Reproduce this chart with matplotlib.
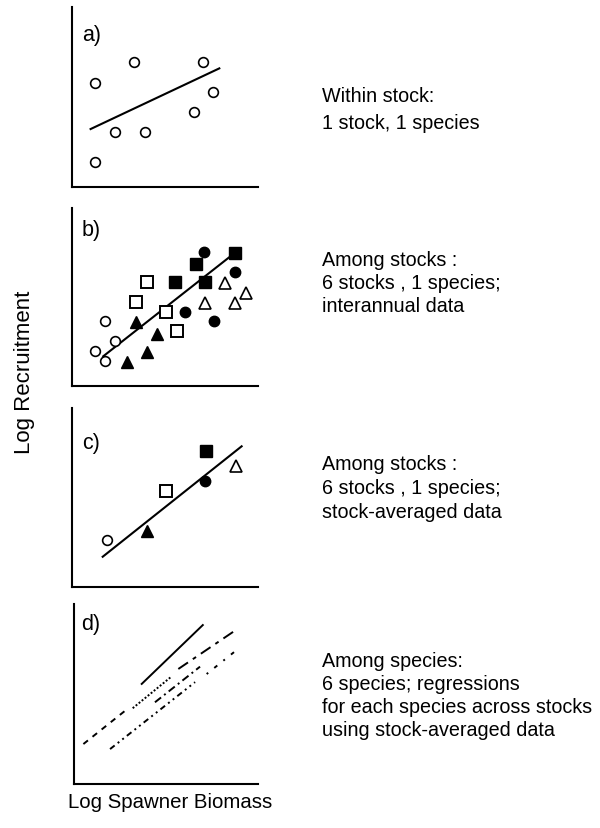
import matplotlib
matplotlib.use("Agg")
import matplotlib.pyplot as plt

plt.rcParams['font.family'] = ['Liberation Sans', 'DejaVu Sans']

# ---- data (arbitrary log units, 0-10 on both axes) ----
# a) one stock, one species
a_x = [1.24, 3.33, 7.06, 7.60, 6.56, 2.31, 3.92, 1.24]
a_y = [5.78, 6.96, 6.96, 5.26, 4.15, 3.04, 3.04, 1.37]
a_fit_x = [1.0, 7.92]
a_fit_y = [3.22, 6.59]

# b) six stocks, interannual data
b_open_circle_x = [1.77, 2.31, 1.24, 1.77]
b_open_circle_y = [3.63, 2.54, 1.98, 1.42]
b_filled_tri_x = [2.94, 4.02, 4.55, 3.44]
b_filled_tri_y = [1.33, 1.89, 2.92, 3.58]
b_open_square_x = [4.02, 3.44, 5.05, 5.63]
b_open_square_y = [5.83, 4.70, 4.14, 3.07]
b_filled_square_x = [6.67, 5.54, 7.15, 8.76]
b_filled_square_y = [6.85, 5.83, 5.83, 7.46]
b_filled_circle_x = [7.10, 8.76, 6.08, 7.63]
b_filled_circle_y = [7.51, 6.39, 4.14, 3.67]
b_open_tri_x = [8.23, 9.35, 7.15, 8.76]
b_open_tri_y = [5.77, 5.21, 4.65, 4.65]
b_fit_x = [1.68, 8.73]
b_fit_y = [1.67, 7.46]

# c) six stocks, stock-averaged data
c_x = [1.87, 4.05, 5.05, 7.15, 7.19, 8.80]
c_y = [2.63, 3.11, 5.35, 5.90, 7.58, 6.78]
c_fit_x = [1.65, 9.12]
c_fit_y = [1.69, 7.86]

# d) regressions for each species across stocks: (x0, x1), (y0, y1)
d_solid = ([3.68, 7.00], [5.56, 8.83])
d_dashed = ([0.51, 2.95], [2.22, 4.21])
d_dotted = ([3.19, 5.31], [4.21, 5.98])
d_dashdot = ([4.40, 6.85], [4.54, 6.52])
d_dashdotdot = ([1.96, 6.58], [1.94, 5.66])
d_longdash = ([5.67, 8.66], [6.39, 8.46])
d_sparse = ([7.21, 9.02], [6.11, 7.59])

W, H = 600, 829
fig = plt.figure(figsize=(W / 100, H / 100), dpi=100)


def panel(left, top, right, bottom):
    ax = fig.add_axes([left / W, 1 - bottom / H, (right - left) / W, (bottom - top) / H])
    ax.set_xlim(0, 10)
    ax.set_ylim(0, 10)
    for s in ('top', 'right'):
        ax.spines[s].set_visible(False)
    for s in ('left', 'bottom'):
        ax.spines[s].set_linewidth(1.5)
    ax.set_xticks([])
    ax.set_yticks([])
    ax.patch.set_visible(False)
    return ax


def side_text(lines, baselines):
    for txt, yb in zip(lines, baselines):
        fig.text(322 / W, 1 - yb / H, txt, fontsize=14.2, ha='left', va='baseline')


open_c = dict(marker='o', ms=7, mfc='white', mec='black', mew=1.2, ls='none', clip_on=False)
fill_c = dict(marker='o', ms=7.5, mfc='black', mec='black', ls='none', clip_on=False)
open_s = dict(marker='s', ms=8, mfc='white', mec='black', mew=1.4, ls='none', clip_on=False)
fill_s = dict(marker='s', ms=8, mfc='black', mec='black', ls='none', clip_on=False)
open_t = dict(marker='^', ms=9, mfc='white', mec='black', mew=1.2, ls='none', clip_on=False)
fill_t = dict(marker='^', ms=9, mfc='black', mec='black', ls='none', clip_on=False)
label_kw = dict(fontsize=15.5, ha='left', va='center')

# a)
ax = panel(72, 8, 258, 188)
ax.plot(a_fit_x, a_fit_y, color='black', lw=1.5)
ax.plot(a_x, a_y, **open_c)
ax.text(0.054, 0.85, 'a)', transform=ax.transAxes, **label_kw)
side_text(['Within stock:', '1 stock, 1 species'], [102, 129])

# b)
ax = panel(72, 209, 258, 387)
ax.plot(b_fit_x, b_fit_y, color='black', lw=1.5)
ax.plot(b_open_circle_x, b_open_circle_y, **open_c)
ax.plot(b_filled_tri_x, b_filled_tri_y, **fill_t)
ax.plot(b_open_square_x, b_open_square_y, **open_s)
ax.plot(b_filled_square_x, b_filled_square_y, **fill_s)
ax.plot(b_filled_circle_x, b_filled_circle_y, **fill_c)
ax.plot(b_open_tri_x, b_open_tri_y, **open_t)
ax.text(0.054, 0.882, 'b)', transform=ax.transAxes, **label_kw)
side_text(['Among stocks :', '6 stocks , 1 species;', 'interannual data'], [266, 289, 312])

# c)
ax = panel(72, 409, 258, 588)
ax.plot(c_fit_x, c_fit_y, color='black', lw=1.5)
ax.plot(c_x[0], c_y[0], **open_c)
ax.plot(c_x[1], c_y[1], **fill_t)
ax.plot(c_x[2], c_y[2], **open_s)
ax.plot(c_x[3], c_y[3], **fill_c)
ax.plot(c_x[4], c_y[4], **fill_s)
ax.plot(c_x[5], c_y[5], **open_t)
ax.text(0.054, 0.81, 'c)', transform=ax.transAxes, **label_kw)
side_text(['Among stocks :', '6 stocks , 1 species;', 'stock-averaged data'], [470, 494, 518])

# d)
ax = panel(74, 605, 258, 785)
line_styles = [
    (d_solid, '-'),
    (d_dashed, (0, (3, 3))),
    (d_dotted, (0, (1, 1))),
    (d_dashdot, (0, (4, 2, 1, 2))),
    (d_dashdotdot, (0, (3, 2, 1, 2, 1, 2))),
    (d_longdash, (0, (6, 3, 2, 3))),
    (d_sparse, (0, (1, 4, 2, 4))),
]
for (xs, ys), style in line_styles:
    ax.plot(xs, ys, color='black', lw=1.4, linestyle=style)
ax.text(0.04, 0.894, 'd)', transform=ax.transAxes, **label_kw)
side_text(['Among species:', '6 species; regressions',
           'for each species across stocks', 'using stock-averaged data'],
          [667, 690, 713, 736])

# shared axis titles
fig.text(25 / W, 1 - 372 / H, 'Log Recruitment', rotation=90, fontsize=16,
         ha='center', va='center')
fig.text(68 / W, 1 - 803 / H, 'Log Spawner Biomass', fontsize=14.7,
         ha='left', va='center')

fig.savefig('out.png', dpi=100, facecolor='white')
